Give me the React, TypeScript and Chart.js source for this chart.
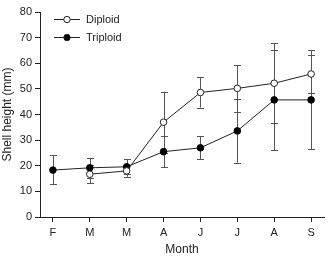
import React, { useEffect, useRef } from "react";
import { Chart, registerables } from "chart.js";

Chart.register(...registerables);

const months = ["F", "M", "M", "A", "J", "J", "A", "S"];
const diploid = [null, 16.7, 18.0, 37.0, 48.6, 50.2, 52.2, 55.8];
const diploidLow = [null, 13.2, 15.7, 25.1, 42.7, 41.1, 36.6, 48.3];
const diploidHigh = [null, 20.2, 20.3, 48.9, 54.5, 59.3, 67.8, 65.2];
const triploid = [18.3, 19.2, 19.6, 25.5, 27.0, 33.6, 45.7, 45.7];
const triploidLow = [12.8, 15.3, 16.6, 19.4, 22.5, 21.2, 26.1, 26.4];
const triploidHigh = [24.2, 23.1, 22.6, 31.6, 31.6, 46.0, 65.2, 63.2];
const yTicks = [0, 10, 20, 30, 40, 50, 60, 70, 80];

const FONT = "'Liberation Sans', Arial, sans-serif";

const errorBars = {
  id: "errorBars",
  beforeDatasetsDraw(chart: any) {
    const ctx = chart.ctx;
    const x = chart.scales.x;
    const y = chart.scales.y;
    const sets = [
      [diploidLow, diploidHigh],
      [triploidLow, triploidHigh],
    ];
    ctx.save();
    ctx.strokeStyle = "#555";
    ctx.lineWidth = 1;
    sets.forEach(([lo, hi]) => {
      lo.forEach((l: any, i: number) => {
        const h = hi[i];
        if (l == null || h == null) return;
        const px = Math.round(x.getPixelForValue(i)) + 0.5;
        const y1 = y.getPixelForValue(l);
        const y2 = y.getPixelForValue(h);
        ctx.beginPath();
        ctx.moveTo(px, y1);
        ctx.lineTo(px, y2);
        ctx.moveTo(px - 3.5, Math.round(y1) + 0.5);
        ctx.lineTo(px + 3.5, Math.round(y1) + 0.5);
        ctx.moveTo(px - 3.5, Math.round(y2) + 0.5);
        ctx.lineTo(px + 3.5, Math.round(y2) + 0.5);
        ctx.stroke();
      });
    });
    ctx.restore();
  },
};

const legendPlugin = {
  id: "insideLegend",
  afterDraw(chart: any) {
    const ctx = chart.ctx;
    const items = [
      { label: "Diploid", fill: "#fff", y: 19 },
      { label: "Triploid", fill: "#000", y: 37 },
    ];
    ctx.save();
    items.forEach((it) => {
      ctx.strokeStyle = "#222";
      ctx.lineWidth = 1;
      ctx.beginPath();
      ctx.moveTo(54, it.y + 0.5);
      ctx.lineTo(80, it.y + 0.5);
      ctx.stroke();
      ctx.beginPath();
      ctx.arc(67, it.y + 0.5, 3.2, 0, Math.PI * 2);
      ctx.fillStyle = it.fill;
      ctx.fill();
      ctx.stroke();
      ctx.fillStyle = "#222";
      ctx.font = `11px ${FONT}`;
      ctx.textBaseline = "middle";
      ctx.textAlign = "left";
      ctx.fillText(it.label, 86, it.y + 0.5);
    });
    ctx.restore();
  },
};

export default function App() {
  const ref = useRef<HTMLCanvasElement | null>(null);
  useEffect(() => {
    if (!ref.current) return;
    const chart = new Chart(ref.current, {
      type: "line",
      data: {
        datasets: [
          {
            label: "Diploid",
            data: diploid.map((v, i) => ({ x: i, y: v })) as any,
            borderColor: "#222",
            borderWidth: 1,
            pointBackgroundColor: "#fff",
            pointBorderColor: "#222",
            pointRadius: 3.3,
            pointBorderWidth: 1,
            spanGaps: false,
          },
          {
            label: "Triploid",
            data: triploid.map((v, i) => ({ x: i, y: v })) as any,
            borderColor: "#222",
            borderWidth: 1,
            pointBackgroundColor: "#000",
            pointBorderColor: "#000",
            pointRadius: 3.3,
            pointBorderWidth: 1,
          },
        ],
      },
      plugins: [errorBars, legendPlugin],
      options: {
        animation: false,
        responsive: false,
        maintainAspectRatio: false,
        layout: { padding: { top: 12, right: 3, left: 0, bottom: 0 } },
        plugins: { legend: { display: false }, tooltip: { enabled: false } },
        scales: {
          x: {
            type: "linear",
            min: -0.35,
            max: 7.35,
            afterBuildTicks: (s: any) => {
              s.ticks = months.map((_, i) => ({ value: i }));
            },
            afterFit: (s: any) => {
              s.height = 40;
            },
            ticks: {
              callback: (v: any) => months[v as number],
              color: "#222",
              font: { family: FONT, size: 11 },
              padding: 4,
              maxRotation: 0,
            },
            grid: { drawOnChartArea: false, drawTicks: true, tickLength: 5, color: "#222" },
            border: { display: true, color: "#222", width: 1 },
            title: {
              display: true,
              text: "Month",
              color: "#222",
              font: { family: FONT, size: 12 },
              padding: { top: 6, bottom: 0 },
            },
          },
          y: {
            min: 0,
            max: 80,
            afterBuildTicks: (s: any) => {
              s.ticks = yTicks.map((v) => ({ value: v }));
            },
            afterFit: (s: any) => {
              s.width = 40;
            },
            ticks: {
              color: "#222",
              font: { family: FONT, size: 11 },
              padding: 3,
            },
            grid: { drawOnChartArea: false, drawTicks: true, tickLength: 5, color: "#222" },
            border: { display: true, color: "#222", width: 1 },
            title: {
              display: true,
              text: "Shell height (mm)",
              color: "#222",
              font: { family: FONT, size: 12 },
              padding: { top: 0, bottom: 2 },
            },
          },
        },
      },
    });
    return () => chart.destroy();
  }, []);
  return (
    <div style={{ position: "fixed", left: 0, top: 0, width: 329, height: 257, background: "#fff" }}>
      <canvas ref={ref} width={329} height={257} style={{ display: "block" }} />
    </div>
  );
}
